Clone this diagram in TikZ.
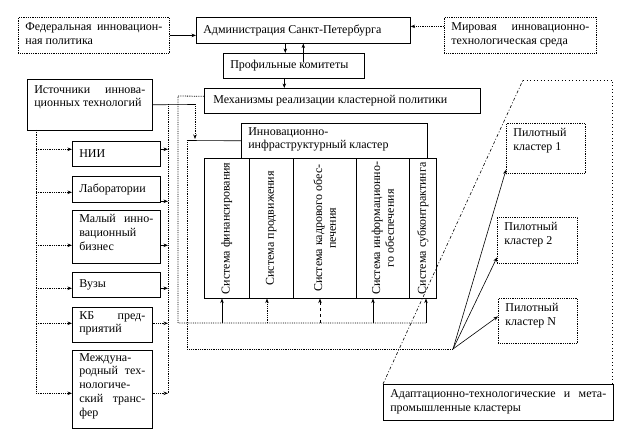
\documentclass[tikz,border=0pt]{standalone}
\usepackage{fontspec}
\setmainfont{Liberation Serif}
\usetikzlibrary{arrows.meta,calc}
\newcommand\jl[1]{\makebox[\linewidth][s]{#1}}
\newcommand\tb[4]{\parbox[c][\dimexpr#2pt-#3pt-#3pt\relax][t]{\dimexpr#1pt-14pt\relax}{#4}}
\newcommand\cb[2]{\parbox{\dimexpr#1pt-14pt\relax}{#2}}
\newcommand\sy[1]{\rotatebox{90}{\parbox{134pt}{\centering #1}}}
\begin{document}
\begin{tikzpicture}[x=1pt,y=-1pt,line width=0.6pt,
  every node/.style={font=\fontsize{12}{13.8}\selectfont, inner sep=0pt},
  bx/.style 2 args={draw, anchor=north west, minimum width=#1, minimum height=#2},
  arr/.style={-{Stealth[length=4.5pt,width=3.5pt]}},
  dl/.style={densely dotted, line width=0.8pt},
  dbox/.style={densely dotted, line width=0.8pt}]
\fill[white] (0,0) rectangle (622,438);
\useasboundingbox (0,0) rectangle (622,438);

% top row
\node[bx={151}{36}, dbox] (fed) at (18,17) {\tb{151}{36}{5}{\jl{Федеральная инновацион-}\\ная политика}};
\node[bx={214}{26}] (adm) at (196,17) {\cb{214}{Администрация Санкт-Петербурга}};
\node[bx={152}{36}, dbox] (mir) at (444,17) {\tb{152}{36}{5}{\jl{Мировая инновационно-}\\технологическая среда}};
\node[bx={141}{25}] (prof) at (223,53) {\cb{141}{Профильные комитеты}};
\node[bx={276}{25}] (mech) at (204,88) {\cb{276}{\hspace{2pt}Механизмы реализации кластерной политики}};

% sources
\node[bx={125}{51}] (ist) at (27,79) {\tb{125}{51}{6}{\jl{Источники иннова-}\\ционных технологий}};
\node[bx={88}{25}] (nii) at (72,141) {\cb{88}{НИИ}};
\node[bx={88}{26}] (lab) at (72,176) {\cb{88}{Лаборатории}};
\node[bx={88}{53}] (mal) at (72,210) {\tb{88}{53}{4}{\jl{Малый инно-}\\вационный\\бизнес}};
\node[bx={88}{25}] (vuz) at (72,272) {\cb{88}{Вузы}};
\node[bx={80}{35}] (kb) at (72,307) {\tb{80}{35}{4}{\jl{КБ пред-}\\приятий}};
\node[bx={80}{78}] (mezh) at (72,350) {\tb{80}{78}{3}{Междуна-\\\jl{родный тех-}\\нологиче-\\\jl{ский транс-}\\фер}};

% cluster
\node[bx={186}{35}] (innov) at (241,123) {\tb{186}{35}{4}{Инновационно-\\инфраструктурный кластер}};
\node[bx={45}{140}] (s1) at (204,158) {\sy{Система финансирования}};
\node[bx={44}{140}] (s2) at (249,158) {\sy{Система продвижения}};
\node[bx={63}{140}] (s3) at (293,158) {\sy{Система кадрового обес-\\печения}};
\node[bx={53}{140}] (s4) at (356,158) {\sy{Система информационно-\\го обеспечения}};
\node[bx={27}{140}] (s5) at (409,158) {\sy{Система субконтрактинга}};

% pilots
\node[bx={79}{50}, dbox] (p1) at (506,123) {\tb{79}{50}{5}{Пилотный\\кластер 1}};
\node[bx={80}{46}, dbox] (p2) at (497,217) {\tb{80}{46}{5}{Пилотный\\кластер 2}};
\node[bx={79}{45}, dbox] (pN) at (498,298) {\tb{79}{45}{5}{Пилотный\\кластер N}};
\node[bx={230}{36}] (ad) at (383,384) {\tb{230}{36}{5}{\jl{Адаптационно-технологические и мета-}\\промышленные кластеры}};

% top connectors
\draw[arr] (fed.east) -- (fed.east -| adm.west);
\draw[arr, dl] ([yshift=9pt]mir.west) -- ([yshift=9pt]mir.west -| adm.east);
\draw[arr] ([xshift=-18pt]adm.south) -- ([xshift=-18pt]adm.south |- prof.north);
\draw[arr] ([yshift=-9pt]prof.north -| adm.south) -- (adm.south);
\draw[arr] ([xshift=-9.5pt]prof.south) -- ([xshift=-9.5pt]prof.south |- mech.north);

% mechanisms bus
\coordinate (m1) at (178,96);
\coordinate (m2) at (178,323);
\coordinate (m3) at (427,323);
\draw[dl] ([yshift=4.5pt]mech.west) -- (m1) -- (m2) -- (m3);
\coordinate (b1) at (222,323);
\coordinate (b2) at (267,323);
\coordinate (b3) at (320,323);
\coordinate (b4) at (373,323);
\coordinate (b5) at (426,323);
\draw[arr] (b1) -- (b1 |- s1.south);
\draw[arr, dl] (b2) -- (b2 |- s2.south);
\draw[arr, dashed] (b3) -- (b3 |- s3.south);
\draw[arr] (b4) -- (b4 |- s4.south);
\draw[arr] (b5) -- (b5 |- s5.south);

% sources to cluster
\coordinate (i1) at (195,104.5);
\coordinate (i2) at (195,139);
\draw (ist.east) -- (i1);
\draw[arr, dl] (i1) -- (i2);
\coordinate (c1) at (187,140.5);
\coordinate (c2) at (187,349);
\coordinate (fan) at (453,349);
\draw (innov.west) -- (c1);
\draw[dl] (c1) -- (c2) -- (fan);
\draw[arr] (fan) -- ([yshift=4pt]p1.south west);
\draw[arr] (fan) -- ([yshift=-17pt]p2.west);
\draw[arr] (fan) -- ([yshift=4.5pt]pN.west);

% collector and distributor
\coordinate (R1) at (168,104.5);
\coordinate (R2) at (168,393);
\coordinate (L1) at (36,130);
\coordinate (L2) at (36,393);
\draw[dl] (R1) -- (R2);
\draw[dl] (L1) -- (L2);

\coordinate (a1) at ([yshift=4.5pt]nii.west);
\draw[dl, arr] (a1 -| L1) -- (a1);
\draw[arr] (a1 -| nii.east) -- (a1 -| R1);
\coordinate (a2) at ([yshift=-3pt]lab.west);
\draw[dl, arr] (a2 -| L1) -- (a2);
\coordinate (a2r) at ([yshift=-12pt]lab.east);
\draw[arr] (a2r) -- (a2r -| R1);
\coordinate (a3) at ([yshift=-8.5pt]mal.west);
\draw[dl, arr] (a3 -| L1) -- (a3);
\draw[arr] (a3 -| mal.east) -- (a3 -| R1);
\coordinate (a4) at ([yshift=-3.5pt]vuz.west);
\draw[dl, arr] (a4 -| L1) -- (a4);
\draw[arr] (a4 -| vuz.east) -- (a4 -| R1);
\coordinate (a5) at ([yshift=1.5pt]kb.west);
\draw[dl, arr] (a5 -| L1) -- (a5);
\draw[dl, arr] (a5 -| kb.east) -- (a5 -| R1);
\coordinate (a6) at ([yshift=-4pt]mezh.west);
\draw[dl, arr] (a6 -| L1) -- (a6);
\draw[dl, arr] (a6 -| mezh.east) -- (a6 -| R1);

% adaptive region
\coordinate (t1) at (523,80);
\coordinate (t2) at (612,80);
\coordinate (t3) at (612,384);
\draw[dash pattern=on 3pt off 2pt on 1pt off 2pt] (ad.north west) -- (t1);
\draw[dash pattern=on 1pt off 2.5pt, line width=0.7pt] (t1) -- (t2) -- (t3);
\end{tikzpicture}
\end{document}
